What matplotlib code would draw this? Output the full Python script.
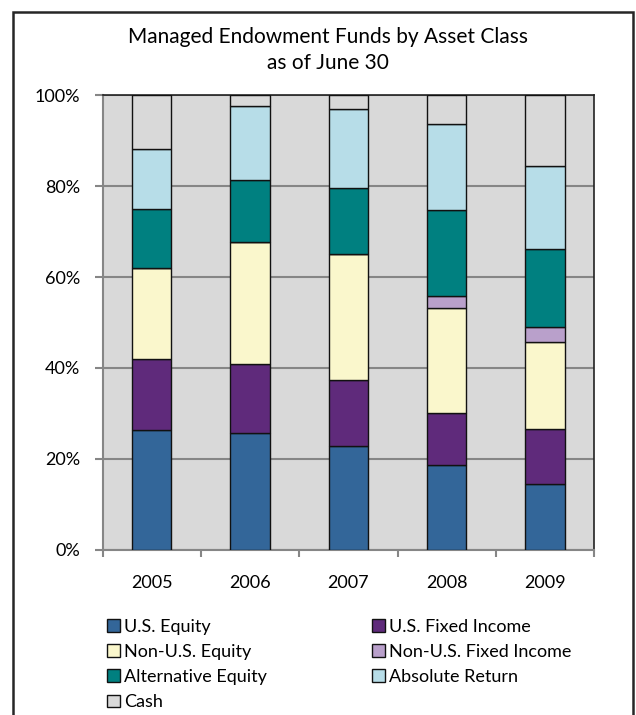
import matplotlib.pyplot as plt
from matplotlib.patches import Rectangle
import numpy as np

plt.rcParams['font.family'] = ['Lato', 'DejaVu Sans']

years = ['2005', '2006', '2007', '2008', '2009']
classes = ['U.S. Equity', 'U.S. Fixed Income', 'Non-U.S. Equity', 'Non-U.S. Fixed Income',
           'Alternative Equity', 'Absolute Return', 'Cash']

# percent of total
us_equity = [26.4, 25.8, 22.8, 18.7, 14.6]
us_fixed = [15.5, 15.0, 14.5, 11.3, 12.1]
nonus_equity = [20.0, 26.8, 27.7, 23.2, 19.1]
nonus_fixed = [0.0, 0.0, 0.0, 2.7, 3.2]
alt_equity = [13.0, 13.7, 14.6, 18.8, 17.1]
abs_return = [13.3, 16.3, 17.4, 18.9, 18.2]
cash = [11.8, 2.4, 3.0, 6.4, 15.7]

series = [us_equity, us_fixed, nonus_equity, nonus_fixed, alt_equity, abs_return, cash]
colors = ['#336699', '#5f2a7b', '#faf7cc', '#b9a0cb', '#008080', '#b7dde8', '#d9d9d9']

fig = plt.figure(figsize=(6.36, 7.15), dpi=100)
ax = fig.add_axes([0.1615, 0.2308, 0.7725, 0.6363])
ax.set_facecolor('#d9d9d9')

x = np.arange(len(years))
bottom = np.zeros(len(years))
handles = []
for vals, col, lab in zip(series, colors, classes):
    vals = np.array(vals)
    b = ax.bar(x, vals, width=0.4, bottom=bottom, color=col, edgecolor='#111111',
               linewidth=1.0, label=lab, zorder=3)
    handles.append(b)
    bottom += vals

ax.set_xlim(-0.5, len(years) - 0.5)
ax.set_ylim(0, 100)
ax.set_yticks(np.arange(0, 101, 20))
ax.set_yticklabels([f'{v}%' for v in range(0, 101, 20)], fontsize=13)
ax.set_xticks(x)
ax.set_xticklabels(years, fontsize=13)
ax.set_xticks(np.arange(-0.5, len(years), 1.0), minor=True)
ax.tick_params(axis='x', which='major', length=0, pad=18)
ax.tick_params(axis='x', which='minor', length=5, color='#868686', width=1.5)
ax.tick_params(axis='y', length=6, color='#868686', width=1.5, pad=10)
ax.grid(axis='y', color='#868686', linewidth=1.5, zorder=0)
ax.set_axisbelow(True)

for s in ['left', 'bottom']:
    ax.spines[s].set_color('#868686')
    ax.spines[s].set_linewidth(1.5)
for s in ['top', 'right']:
    ax.spines[s].set_color('#222222')
    ax.spines[s].set_linewidth(1.2)

fig.text(0.516, 0.948, 'Managed Endowment Funds by Asset Class', ha='center', va='center', fontsize=15)
fig.text(0.516, 0.912, 'as of June 30', ha='center', va='center', fontsize=15)

order = [0, 2, 4, 6, 1, 3, 5]
fig.legend([handles[i] for i in order], [classes[i] for i in order], ncol=2,
           loc='upper left', bbox_to_anchor=(0.168, 0.134), frameon=False,
           fontsize=13, handlelength=0.72, handleheight=0.72, handletextpad=0.25,
           labelspacing=0.5, columnspacing=5.8, borderaxespad=0, borderpad=0)

fig.patches.append(Rectangle((13 / 636, -10 / 715), 620 / 636, 713 / 715, transform=fig.transFigure,
                             fill=False, edgecolor='#262626', linewidth=1.8))

fig.savefig('out.png', dpi=100)
